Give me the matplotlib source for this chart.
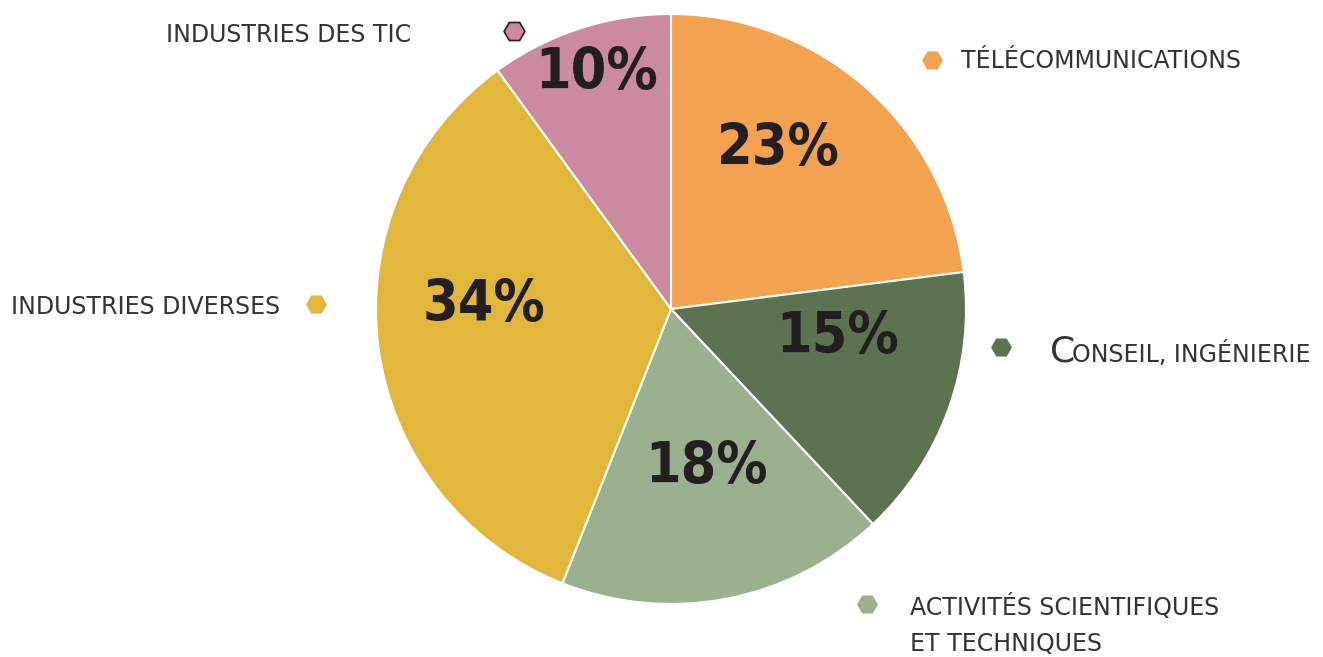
import matplotlib
matplotlib.use("Agg")
import matplotlib.pyplot as plt

categories = ["TÉLÉCOMMUNICATIONS", "CONSEIL, INGÉNIERIE", "ACTIVITÉS SCIENTIFIQUES\nET TECHNIQUES",
              "INDUSTRIES DIVERSES", "INDUSTRIES DES TIC"]
values = [23, 15, 18, 34, 10]
pct_labels = ["23%", "15%", "18%", "34%", "10%"]
colors = ["#F3A24F", "#5D7251", "#9AB08F", "#E0B73A", "#CB8AA0"]

W, H = 1323, 657
fig = plt.figure(figsize=(W / 100, H / 100), dpi=100)
ax = fig.add_axes([0, 0, 1, 1])

cx, cy, r = 671, H - 309, 295
ax.pie(values, colors=colors, startangle=90, counterclock=False,
       center=(cx, cy), radius=r, frame=True,
       wedgeprops=dict(edgecolor="white", linewidth=1.5))
ax.set_xlim(0, W)
ax.set_ylim(0, H)
ax.axis("off")

pct_pos = [(778, 150), (838, 337), (707, 467), (484, 306), (597, 73)]
for (x, y), t in zip(pct_pos, pct_labels):
    ax.text(x, H - y, t, ha="center", va="center", fontsize=41, fontweight="bold",
            fontstretch="condensed", color="#231F20", family="DejaVu Sans")

txt_color = "#333333"
fs = 17
# Télécommunications
ax.plot(932, H - 60, marker="H", markersize=15, color=colors[0], markeredgewidth=0)
ax.text(961, H - 61, categories[0], ha="left", va="center", fontsize=fs, color=txt_color)
# Conseil (small caps)
ax.plot(1001, H - 347, marker="H", markersize=15, color=colors[1], markeredgewidth=0)
ax.text(1050, H - 362, "C", ha="left", va="baseline", fontsize=26, color=txt_color)
ax.text(1072, H - 362, "ONSEIL, INGÉNIERIE", ha="left", va="baseline", fontsize=17, color=txt_color)
# Activités
ax.plot(867, H - 604, marker="H", markersize=15, color=colors[2], markeredgewidth=0)
ax.text(910, H - 607, "ACTIVITÉS SCIENTIFIQUES", ha="left", va="center", fontsize=fs, color=txt_color)
ax.text(910, H - 644, "ET TECHNIQUES", ha="left", va="center", fontsize=fs, color=txt_color)
# Industries diverses
ax.plot(316, H - 304, marker="H", markersize=15, color=colors[3], markeredgewidth=0)
ax.text(280, H - 307, categories[3], ha="right", va="center", fontsize=fs, color=txt_color)
# TIC
ax.plot(514, H - 31, marker="H", markersize=15, color=colors[4], markeredgecolor="#231F20", markeredgewidth=1.2)
ax.text(411, H - 35, categories[4], ha="right", va="center", fontsize=fs, color=txt_color)

fig.savefig("out.png", dpi=100, facecolor="white")
